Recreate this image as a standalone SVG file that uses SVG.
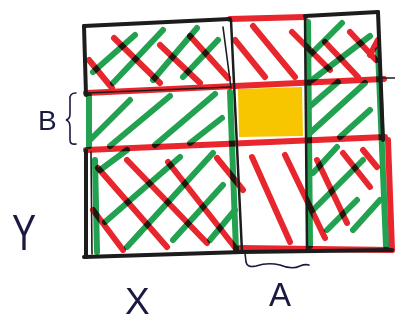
<svg xmlns="http://www.w3.org/2000/svg" width="395" height="322" viewBox="0 0 395 322">
<style>
.r{stroke:#e8262d;stroke-width:6;stroke-linecap:round;fill:none}
.g{stroke:#22a150;stroke-width:6;stroke-linecap:round;fill:none}
.k{stroke:#1c1c1c;stroke-width:4;stroke-linecap:round;fill:none}
.kt{stroke:#1c1c1c;stroke-width:1.6;stroke-linecap:round;fill:none}
.hatch{mix-blend-mode:multiply}
.lbl{font-family:"Liberation Sans",Arial,sans-serif;fill:#1a1a40}
.brace{stroke:#1a1a40;stroke-width:1.6;fill:none;stroke-linecap:round}
</style>
<rect width="395" height="322" fill="#fff"/>
<g id="yellow">
<path d="M238,89 L302,87 L303,136 L239,137 Z" fill="#f7c600"/>
</g>
<g id="hatch-green" class="hatch">
<line class="g" x1="93" y1="72" x2="135" y2="35"/>
<line class="g" x1="113" y1="83" x2="163" y2="30"/>
<line class="g" x1="153" y1="80" x2="197" y2="28"/>
<line class="g" x1="183" y1="77" x2="218" y2="40"/>
<line class="g" x1="309" y1="56" x2="342" y2="23"/>
<line class="g" x1="312" y1="80" x2="370" y2="36"/>
<line class="g" x1="90" y1="140" x2="130" y2="100"/>
<line class="g" x1="110" y1="146" x2="170" y2="96"/>
<line class="g" x1="155" y1="145" x2="215" y2="94"/>
<line class="g" x1="190" y1="143" x2="222" y2="118"/>
<line class="g" x1="308" y1="108" x2="338" y2="82"/>
<line class="g" x1="310" y1="133" x2="365" y2="83"/>
<line class="g" x1="340" y1="137" x2="370" y2="110"/>
<line class="g" x1="100" y1="170" x2="127" y2="150"/>
<line class="g" x1="105" y1="222" x2="180" y2="157"/>
<line class="g" x1="127" y1="247" x2="213" y2="153"/>
<line class="g" x1="173" y1="240" x2="223" y2="185"/>
<line class="g" x1="210" y1="240" x2="235" y2="210"/>
<line class="g" x1="313" y1="173" x2="337" y2="147"/>
<line class="g" x1="313" y1="210" x2="363" y2="160"/>
<line class="g" x1="327" y1="230" x2="357" y2="200"/>
<line class="g" x1="353" y1="230" x2="380" y2="200"/>
<line class="g" x1="89" y1="96" x2="89" y2="146"/>
<line class="g" x1="95" y1="160" x2="97" y2="252"/>
<line class="g" x1="230" y1="92" x2="236" y2="250"/>
<line class="g" x1="308" y1="22" x2="310" y2="246"/>
<line class="g" x1="378" y1="50" x2="386" y2="246"/>
</g>
<g id="hatch-red" class="hatch">
<line class="r" x1="89" y1="60" x2="112" y2="88"/>
<line class="r" x1="114" y1="38" x2="160" y2="83"/>
<line class="r" x1="160" y1="45" x2="200" y2="83"/>
<line class="r" x1="190" y1="36" x2="228" y2="78"/>
<line class="r" x1="235" y1="40" x2="265" y2="77"/>
<line class="r" x1="253" y1="26" x2="295" y2="77"/>
<line class="r" x1="292" y1="32" x2="330" y2="70"/>
<line class="r" x1="325" y1="42" x2="358" y2="77"/>
<line class="r" x1="350" y1="32" x2="376" y2="60"/>
<line class="r" x1="370" y1="55" x2="378" y2="40"/>
<line class="r" x1="93" y1="210" x2="123" y2="250"/>
<line class="r" x1="98" y1="168" x2="167" y2="247"/>
<line class="r" x1="127" y1="160" x2="207" y2="243"/>
<line class="r" x1="168" y1="162" x2="237" y2="250"/>
<line class="r" x1="217" y1="158" x2="243" y2="190"/>
<line class="r" x1="252" y1="157" x2="290" y2="242"/>
<line class="r" x1="285" y1="155" x2="325" y2="238"/>
<line class="r" x1="317" y1="160" x2="347" y2="223"/>
<line class="r" x1="343" y1="153" x2="370" y2="187"/>
<line class="r" x1="363" y1="150" x2="377" y2="167"/>
<line class="r" x1="230" y1="19" x2="305" y2="17"/>
<line class="r" x1="86" y1="93" x2="384" y2="79"/>
<line class="r" x1="86" y1="150" x2="385" y2="137"/>
<line class="r" x1="388" y1="140" x2="392" y2="250"/>
<line class="r" x1="240" y1="248" x2="392" y2="250"/>
</g>
<g id="frame">
<path class="k" d="M84,26 L230,19"/>
<path class="k" d="M305,16 L378,12"/>
<path class="k" d="M84,26 L86,95"/>
<path class="k" d="M86,150 L86,257"/>
<path class="kt" d="M91,152 L92,254"/>
<path class="kt" d="M86,93 L230,87"/>
<path class="kt" d="M223,27 L231,88"/>
<path class="kt" d="M231,20 L242,252" style="stroke-width:2.5"/>
<path class="kt" d="M305,16 L307,250" style="stroke-width:2.5"/>
<path class="k" d="M378,12 L383,140"/>
<path class="k" d="M84,257 L242,252 L392,250"/>
<path class="kt" d="M378,78 L395,78"/>
</g>
<g id="braces">
<path class="brace" d="M76,93 Q69,93 70,100 L70,114 Q70,119 66,120 Q70,121 70,127 L70,140 Q70,145 76,144"/>
<path class="brace" d="M245,253 L246,262 Q247,268 256,266 Q268,262 280,265 Q292,270 300,266 Q305,264 309,265"/>
</g>
<g id="labels">
<text class="lbl" x="38" y="130" font-size="28">B</text>
<text class="lbl" font-size="36" transform="translate(12,250) scale(1,1.4)">Y</text>
<text class="lbl" x="125" y="314" font-size="37">X</text>
<text class="lbl" x="269" y="306" font-size="33">A</text>
</g>
</svg>
